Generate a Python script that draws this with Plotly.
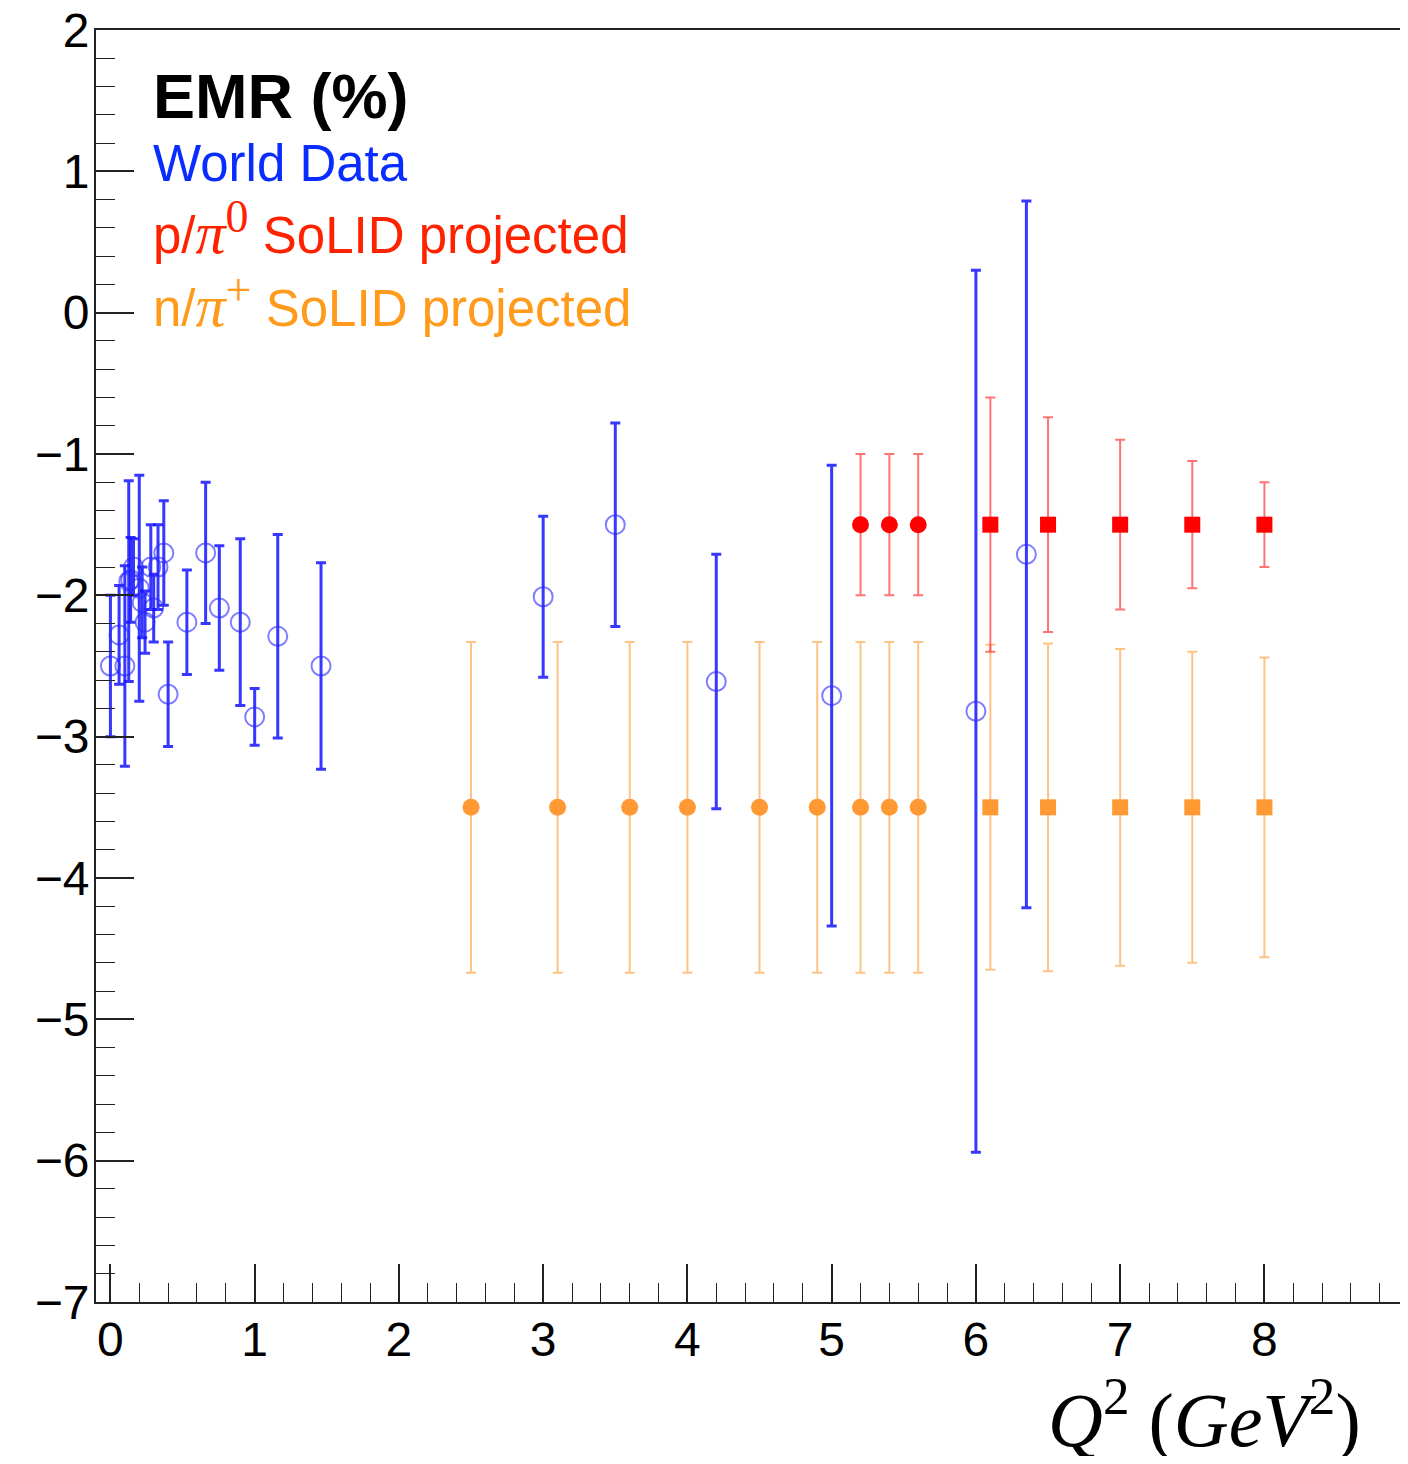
import plotly.graph_objects as go

# ---- World data (open blue circles) ----
world_q2 = [0.0, 0.06, 0.10, 0.127, 0.14, 0.16, 0.20, 0.22, 0.24, 0.28, 0.30, 0.33, 0.37, 0.40,
            0.53, 0.66, 0.755, 0.90, 1.0, 1.16, 1.46, 3.0, 3.5, 4.2, 5.0, 6.0, 6.35]
world_emr = [-2.5, -2.28, -2.5, -1.9, -1.89, -1.8, -1.95, -2.05, -2.19, -1.8, -2.09, -1.8, -1.70, -2.70,
             -2.19, -1.70, -2.09, -2.19, -2.86, -2.29, -2.5, -2.01, -1.5, -2.61, -2.71, -2.82, -1.71]
world_err = [0.5, 0.35, 0.71, 0.71, 0.3, 0.2, 0.8, 0.25, 0.22, 0.3, 0.24, 0.3, 0.37, 0.37,
             0.37, 0.5, 0.44, 0.59, 0.2, 0.72, 0.73, 0.57, 0.72, 0.9, 1.63, 3.12, 2.5]

# ---- p/pi0 SoLID projected (red) ----
p_circ_q2 = [5.2, 5.4, 5.6]
p_circ_emr = [-1.5, -1.5, -1.5]
p_circ_err = [0.5, 0.5, 0.5]
p_sq_q2 = [6.1, 6.5, 7.0, 7.5, 8.0]
p_sq_emr = [-1.5, -1.5, -1.5, -1.5, -1.5]
p_sq_err = [0.9, 0.76, 0.6, 0.45, 0.3]

# ---- n/pi+ SoLID projected (orange) ----
n_circ_q2 = [2.5, 3.1, 3.6, 4.0, 4.5, 4.9, 5.2, 5.4, 5.6]
n_circ_emr = [-3.5] * 9
n_circ_err = [1.17] * 9
n_sq_q2 = [6.1, 6.5, 7.0, 7.5, 8.0]
n_sq_emr = [-3.5, -3.5, -3.5, -3.5, -3.5]
n_sq_err = [1.15, 1.16, 1.12, 1.1, 1.06]

x_ticks = list(range(0, 10))
y_ticks = list(range(-7, 3))

BLUE = "rgba(20,20,255,0.85)"
RED = "#ff0000"
RED_BAR = "rgba(255,0,0,0.55)"
ORANGE = "#ff9933"
ORANGE_BAR = "rgba(255,153,51,0.6)"

fig = go.Figure()

fig.add_trace(go.Scatter(
    x=n_circ_q2, y=n_circ_emr, mode="markers",
    marker=dict(symbol="circle", size=17, color=ORANGE),
    error_y=dict(type="data", array=n_circ_err, color=ORANGE_BAR, thickness=2, width=5),
    showlegend=False))
fig.add_trace(go.Scatter(
    x=n_sq_q2, y=n_sq_emr, mode="markers",
    marker=dict(symbol="square", size=16, color=ORANGE),
    error_y=dict(type="data", array=n_sq_err, color=ORANGE_BAR, thickness=2, width=5),
    showlegend=False))
fig.add_trace(go.Scatter(
    x=p_circ_q2, y=p_circ_emr, mode="markers",
    marker=dict(symbol="circle", size=17, color=RED),
    error_y=dict(type="data", array=p_circ_err, color=RED_BAR, thickness=2, width=5),
    showlegend=False))
fig.add_trace(go.Scatter(
    x=p_sq_q2, y=p_sq_emr, mode="markers",
    marker=dict(symbol="square", size=16, color=RED),
    error_y=dict(type="data", array=p_sq_err, color=RED_BAR, thickness=2, width=5),
    showlegend=False))
fig.add_trace(go.Scatter(
    x=world_q2, y=world_emr, mode="markers",
    marker=dict(symbol="circle-open", size=19, color="rgba(40,40,255,0.6)",
                line=dict(width=2, color="rgba(40,40,255,0.6)")),
    error_y=dict(type="data", array=world_err, color=BLUE, thickness=3, width=5),
    showlegend=False))

axis_common = dict(
    showgrid=False, zeroline=False, showline=True, linecolor="#222", linewidth=2,
    mirror=True, ticks="inside", ticklen=38, tickwidth=1.5, tickcolor="#222",
    automargin=False, ticklabeloverflow="allow",
    tickfont=dict(family="Liberation Sans, Arial, sans-serif", size=48, color="black"),
)

fig.update_xaxes(range=[-0.1, 8.94], tickvals=x_ticks, ticktext=[str(v) for v in x_ticks],
                 ticklabelstandoff=-6,
                 minor=dict(dtick=0.2, tick0=0, ticks="inside", ticklen=19, tickwidth=1.2, tickcolor="#222"),
                 **axis_common)
fig.update_yaxes(range=[-7, 2], tickvals=y_ticks,
                 ticktext=[("\u2212" + str(-v)) if v < 0 else str(v) for v in y_ticks],
                 ticklabelstandoff=-5,
                 minor=dict(dtick=0.2, tick0=0, ticks="inside", ticklen=19, tickwidth=1.2, tickcolor="#222"),
                 **axis_common)

sans = "Liberation Sans, Arial, sans-serif"
serif = "Liberation Serif, Times New Roman, serif"

def ann(text, y, size, color, bold=False):
    fig.add_annotation(
        text=("<b>" + text + "</b>") if bold else text,
        xref="paper", yref="paper", x=0.0422, y=y, xanchor="left", yanchor="middle",
        showarrow=False, font=dict(family=sans, size=size, color=color), align="left")

ann("EMR (%)", 0.9485, 63, "black", bold=True)
ann("World Data", 0.8954, 51, "#0a2dff")
ann("p/<span style='font-family:Liberation Serif;font-size:60px'><i>\u03c0</i></span>"
    "<sup><span style='font-family:Liberation Serif;font-size:46px'>0</span></sup> SoLID projected",
    0.8436, 51, "#ff2200")
ann("n/<span style='font-family:Liberation Serif;font-size:60px'><i>\u03c0</i></span>"
    "<sup><span style='font-family:Liberation Serif;font-size:46px'>+</span></sup> SoLID projected",
    0.7866, 51, "#ff9a1a")

fig.add_annotation(
    text="<i>Q</i><sup>2</sup> (<i>GeV</i><sup>2</sup>)",
    xref="paper", yref="paper", x=0.9716, y=-0.089, xanchor="right", yanchor="middle",
    showarrow=False, font=dict(family=serif, size=76, color="black"))

fig.update_layout(
    width=1392, height=1448,
    margin=dict(l=88, r=0, t=22, b=154, pad=0, autoexpand=False),
    paper_bgcolor="white", plot_bgcolor="white",
    showlegend=False,
)

fig.write_html("out.html")
